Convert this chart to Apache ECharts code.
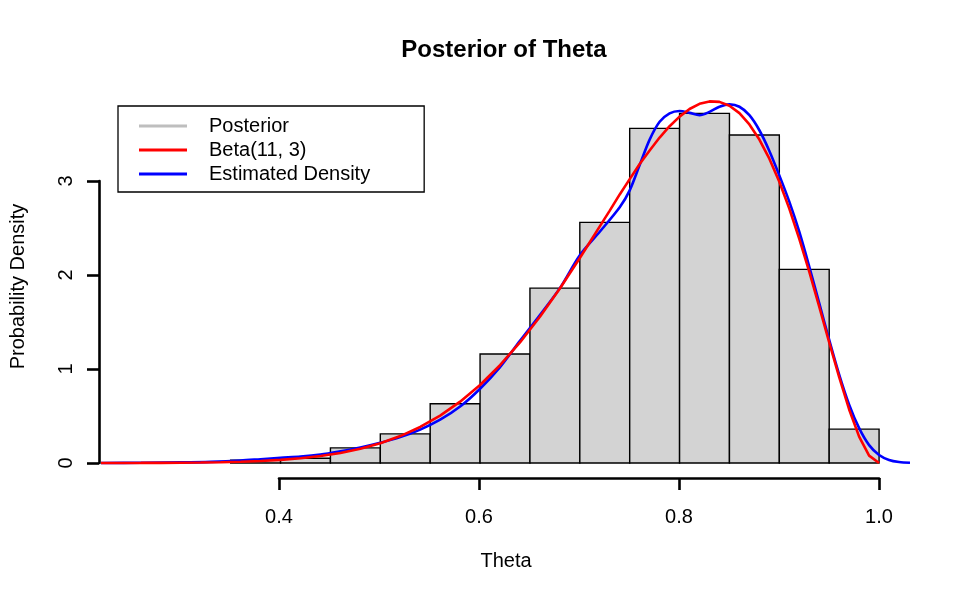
<!DOCTYPE html>
<html><head><meta charset="utf-8">
<script src="https://cdn.jsdelivr.net/npm/echarts@6/dist/echarts.min.js"></script>
<style>html,body{margin:0;padding:0;background:#fff}#c{width:960px;height:600px}</style>
</head><body><div id="c"></div>
<script>
// ---- data ----
const binEdges = [0.35,0.40,0.45,0.50,0.55,0.60,0.65,0.70,0.75,0.80,0.85,0.90,0.95,1.00];
const binDensity = [0.03,0.05,0.16,0.31,0.63,1.16,1.86,2.56,3.56,3.72,3.49,2.06,0.36];

const betaX = [0.22,0.24,0.26,0.28,0.30,0.32,0.34,0.36,0.38,0.40,0.42,0.44,0.46,0.48,0.50,0.52,0.54,0.56,0.58,0.60,0.62,0.64,0.66,0.68,0.70,0.71,0.72,0.73,0.74,0.75,0.76,0.77,0.78,0.79,0.80,0.81,0.82,0.83,0.84,0.85,0.86,0.87,0.88,0.89,0.90,0.91,0.92,0.93,0.94,0.95,0.96,0.97,0.98,0.99,1.00];
const betaY = [0.0001,0.0003,0.0007,0.0013,0.0025,0.0045,0.0077,0.0129,0.0207,0.0324,0.0493,0.0732,0.1066,0.1506,0.2095,0.286,0.383,0.504,0.652,0.830,1.040,1.282,1.556,1.857,2.181,2.349,2.517,2.685,2.857,3.020,3.181,3.325,3.462,3.583,3.685,3.766,3.821,3.847,3.842,3.801,3.722,3.602,3.441,3.237,2.992,2.706,2.385,2.035,1.664,1.284,0.913,0.569,0.280,0.078,0.0];

const kdeX = [0.22,0.26,0.30,0.33,0.36,0.38,0.40,0.42,0.44,0.46,0.48,0.50,0.52,0.54,0.56,0.58,0.60,0.62,0.64,0.66,0.68,0.70,0.72,0.74,0.75,0.76,0.77,0.78,0.79,0.80,0.81,0.82,0.83,0.84,0.85,0.86,0.87,0.88,0.89,0.90,0.91,0.92,0.93,0.94,0.95,0.96,0.97,0.98,0.99,1.00,1.01,1.02,1.031];
const kdeY = [0.000,0.002,0.006,0.012,0.025,0.040,0.055,0.068,0.090,0.125,0.165,0.215,0.275,0.355,0.460,0.600,0.790,1.020,1.300,1.575,1.860,2.210,2.460,2.720,2.900,3.170,3.440,3.630,3.720,3.745,3.725,3.700,3.735,3.790,3.815,3.790,3.700,3.540,3.320,3.060,2.780,2.460,2.090,1.700,1.310,0.940,0.620,0.370,0.190,0.085,0.032,0.010,0.002];

const xTicks = [0.4,0.6,0.8,1.0];
const xTickLabels = ['0.4','0.6','0.8','1.0'];
const yTicks = [0,1,2,3];
const yTickLabels = ['0','1','2','3'];
const legendNames = ['Posterior','Beta(11, 3)','Estimated Density'];
const titleText = 'Posterior of Theta';
const xTitle = 'Theta';
const yTitle = 'Probability Density';

// ---- chart ----
const FONT = '"Liberation Sans", Arial, Helvetica, sans-serif';
const chart = echarts.init(document.getElementById('c'), null, {renderer:'canvas'});
const zip = (xs, ys) => xs.map((x, i) => [x, ys[i]]);
const histData = binDensity.map((d, i) => [binEdges[i], binEdges[i+1], d]);
const lab = (ticks, labels) => v => { const i = ticks.findIndex(t => Math.abs(t - v) < 1e-9); return i >= 0 ? labels[i] : ''; };
const axisStyle = {color:'#000', width:2.6};

const option = {
  animation: false,
  backgroundColor: '#fff',
  textStyle: {fontFamily: FONT},
  title: {
    text: titleText, left: 499, top: 33, textAlign: 'center',
    textStyle: {fontSize: 24, fontWeight: 'bold', color: '#000', fontFamily: FONT}
  },
  legend: {
    orient: 'vertical', left: 118, top: 106,
    data: legendNames.map(n => ({name: n, icon: 'rect'})),
    itemWidth: 48, itemHeight: 3, itemGap: 0,
    padding: [8, 54, 6, 21],
    borderColor: '#000', borderWidth: 1.3, backgroundColor: '#fff',
    selectedMode: false,
    textStyle: {fontSize: 20, color: '#000', fontFamily: FONT, lineHeight: 24, padding: [0,0,0,17]}
  },
  grid: [
    {left: 99, right: 49, top: 95, bottom: 122},
    {left: 279, right: 81, top: 95, bottom: 122},
    {left: 99, right: 860, top: 181, bottom: 137}
  ],
  xAxis: [
    {gridIndex: 0, type: 'value', min: 0.22, max: 1.032,
     axisLine: {show: false}, axisTick: {show: false}, axisLabel: {show: false}, splitLine: {show: false},
     name: xTitle, nameLocation: 'middle', nameGap: 73,
     nameTextStyle: {fontSize: 20, color: '#000', fontFamily: FONT}},
    {gridIndex: 1, type: 'value', min: 0.4, max: 1.0, interval: 0.2, position: 'bottom',
     axisLine: {show: true, lineStyle: axisStyle},
     axisTick: {show: true, inside: false, length: 12, lineStyle: axisStyle},
     axisLabel: {show: true, fontSize: 20, color: '#000', fontFamily: FONT, margin: 29, formatter: lab(xTicks, xTickLabels)},
     splitLine: {show: false}},
    {gridIndex: 2, type: 'value', show: false}
  ],
  yAxis: [
    {gridIndex: 0, type: 'value', min: -0.16, max: 3.915,
     axisLine: {show: false}, axisTick: {show: false}, axisLabel: {show: false}, splitLine: {show: false},
     name: yTitle, nameLocation: 'middle', nameGap: 73, nameRotate: 90,
     nameTextStyle: {fontSize: 20, color: '#000', fontFamily: FONT}},
    {gridIndex: 1, type: 'value', show: false},
    {gridIndex: 2, type: 'value', min: 0, max: 3, interval: 1, position: 'left',
     axisLine: {show: true, lineStyle: axisStyle},
     axisTick: {show: true, inside: false, length: 12, lineStyle: axisStyle},
     axisLabel: {show: true, rotate: 90, fontSize: 20, color: '#000', fontFamily: FONT, margin: 23, formatter: lab(yTicks, yTickLabels)},
     splitLine: {show: false}}
  ],
  series: [
    {type: 'custom', name: 'hist', xAxisIndex: 0, yAxisIndex: 0, data: histData,
     encode: {x: [0, 1], y: 2}, clip: true,
     renderItem: (params, api) => {
       const p0 = api.coord([api.value(0), 0]);
       const p1 = api.coord([api.value(1), api.value(2)]);
       return {type: 'rect',
         shape: {x: p0[0], y: p1[1], width: p1[0] - p0[0], height: p0[1] - p1[1]},
         style: {fill: '#d3d3d3', stroke: '#000', lineWidth: 1.4}};
     }},
    {type: 'line', name: 'Posterior', data: [], color: '#bebebe', showSymbol: false,
     lineStyle: {color: '#bebebe', width: 3}},
    {type: 'line', name: 'Estimated Density', xAxisIndex: 0, yAxisIndex: 0, data: zip(kdeX, kdeY),
     color: '#0000ff', showSymbol: false, smooth: 0.3, clip: true,
     lineStyle: {color: '#0000ff', width: 2.6}},
    {type: 'line', name: 'Beta(11, 3)', xAxisIndex: 0, yAxisIndex: 0, data: zip(betaX, betaY),
     color: '#ff0000', showSymbol: false, smooth: false, clip: true,
     lineStyle: {color: '#ff0000', width: 2.6}}
  ]
};
chart.setOption(option);
</script></body></html>
